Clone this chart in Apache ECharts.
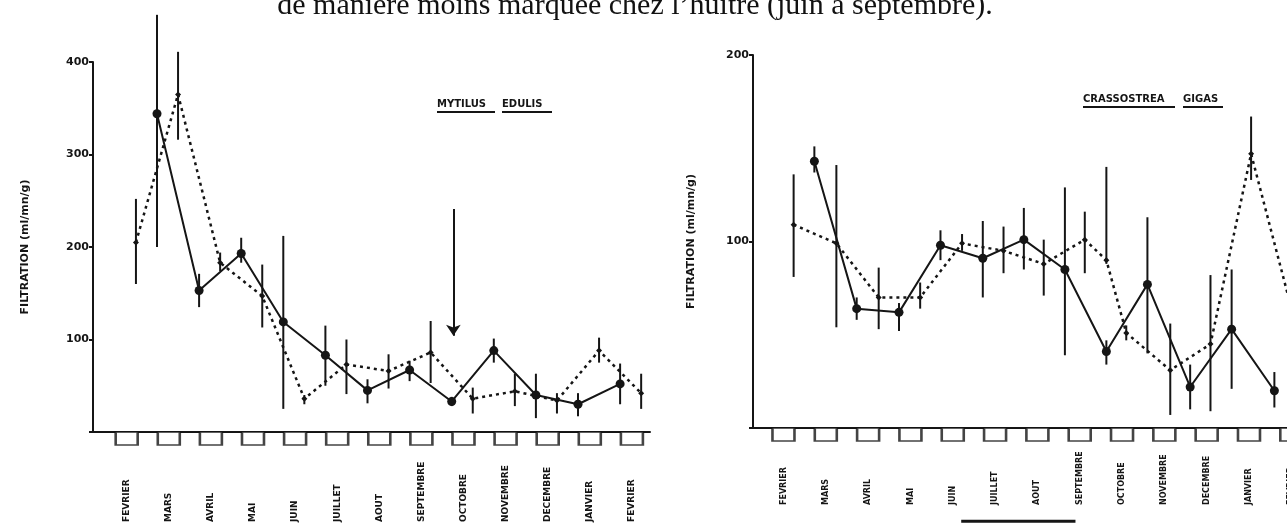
<!DOCTYPE html>
<html>
<head>
<meta charset="utf-8">
<script src="https://cdn.jsdelivr.net/npm/echarts@6/dist/echarts.min.js"></script>
<style>
  html, body { margin: 0; background: #fff; }
  #main { width: 1287px; height: 526px; }
</style>
</head>
<body>
<div id="main"></div>
<script>
// month labels (box under each month), Feb -> Feb
const months = ['FEVRIER', 'MARS', 'AVRIL', 'MAI', 'JUIN', 'JUILLET', 'AOUT', 'SEPTEMBRE',
  'OCTOBRE', 'NOVEMBRE', 'DECEMBRE', 'JANVIER', 'FEVRIER'];
const monthPos = [0, 1, 2, 3, 4, 5, 6, 7, 8, 9, 10, 11, 12];

// Mytilus edulis - solid line (filled dots)
const mytSolidX = [0.72, 1.72, 2.72, 3.72, 4.72, 5.72, 6.72, 7.72, 8.72, 9.72, 10.72, 11.72];
const mytSolidY = [344, 153, 193, 119, 83, 45, 67, 33, 88, 40, 30, 52];
const mytSolidLo = [200, 135, 183, 25, 50, 31, 55, 28, 75, 15, 17, 30];
const mytSolidHi = [451, 171, 210, 212, 115, 57, 77, 38, 101, 63, 42, 74];

// Mytilus edulis - dashed line
const mytDashX = [0.22, 1.22, 2.22, 3.22, 4.22, 5.22, 6.22, 7.22, 8.22, 9.22, 10.22, 11.22, 12.22];
const mytDashY = [205, 365, 183, 147, 36, 73, 66, 86, 36, 44, 34, 88, 42];
const mytDashLo = [160, 316, 174, 113, 30, 41, 47, 53, 20, 28, 20, 75, 25];
const mytDashHi = [252, 411, 194, 181, 40, 100, 84, 120, 48, 63, 42, 102, 63];

// arrow (x position, from / to value)
const arrowX = 7.76;
const arrowFrom = 241;
const arrowTo = 104;

// Crassostrea gigas - solid line
const crasSolidX = [0.73, 1.73, 2.73, 3.71, 4.71, 5.68, 6.65, 7.63, 8.6, 9.61, 10.59, 11.6];
const crasSolidY = [143, 64, 62, 98, 91, 101, 85, 41, 77, 22, 53, 20];
const crasSolidLo = [137, 58, 52, 90, 70, 85, 39, 34, 40, 10, 21, 11];
const crasSolidHi = [151, 70, 67, 106, 111, 118, 129, 47, 113, 34, 85, 30];

// Crassostrea gigas - dashed line
const crasDashX = [0.24, 1.25, 2.25, 3.23, 4.22, 5.2, 6.15, 7.12, 7.63, 8.1, 9.14, 10.09, 11.05, 12.05];
const crasDashY = [109, 99, 70, 70, 99, 95, 88, 101, 90, 51, 31, 45, 147, 60];
const crasDashLo = [81, 54, 53, 64, 95, 83, 71, 83, 88, 47, 7, 9, 133, 60];
const crasDashHi = [136, 141, 86, 78, 104, 108, 101, 116, 140, 55, 56, 82, 167, 60];

// june-september underline under the oyster months
const summerSpan = [4.2, 6.9];
const summerLevel = -50;

const ink = '#151515';
const labelFont = 'DejaVu Sans';

let myChart = echarts.init(document.getElementById('main'));

function pairs(xs, ys) {
  return xs.map((x, i) => [x, ys[i]]);
}

function errorBars(xs, lo, hi, idx) {
  return {
    type: 'custom',
    xAxisIndex: idx,
    yAxisIndex: idx,
    silent: true,
    clip: false,
    z: 1,
    data: xs.map((x, i) => [x, lo[i], hi[i]]),
    encode: { x: 0, y: [1, 2] },
    renderItem: function (params, api) {
      const a = api.coord([api.value(0), api.value(1)]);
      const b = api.coord([api.value(0), api.value(2)]);
      return {
        type: 'line',
        shape: { x1: a[0], y1: a[1], x2: b[0], y2: b[1] },
        style: { stroke: ink, lineWidth: 2 }
      };
    }
  };
}

function solidLine(xs, ys, idx) {
  return {
    type: 'line', xAxisIndex: idx, yAxisIndex: idx,
    data: pairs(xs, ys),
    symbol: 'circle', symbolSize: 9,
    clip: false, z: 3,
    lineStyle: { color: ink, width: 2 },
    itemStyle: { color: ink }
  };
}

function dashedLine(xs, ys, idx) {
  return {
    type: 'line', xAxisIndex: idx, yAxisIndex: idx,
    data: pairs(xs, ys),
    symbol: 'diamond', symbolSize: 6,
    clip: false, z: 2,
    lineStyle: { color: ink, width: 2.5, type: [3, 4] },
    itemStyle: { color: ink }
  };
}

function monthBoxes(idx) {
  return {
    type: 'scatter', xAxisIndex: idx, yAxisIndex: idx,
    data: monthPos.map(p => [p, 0]),
    symbol: 'rect', symbolSize: [22, 13], symbolOffset: [0, 6.5],
    clip: false, silent: true, z: 4,
    itemStyle: { color: '#fff', borderColor: ink, borderWidth: 2 }
  };
}

function xAxisFor(idx, min, max, margin, size) {
  return {
    type: 'value', gridIndex: idx, min: min, max: max,
    axisLine: { show: true, onZero: false, lineStyle: { color: ink, width: 2 } },
    axisTick: { show: false },
    splitLine: { show: false },
    axisLabel: {
      customValues: monthPos,
      formatter: v => months[Math.round(v)] || '',
      rotate: 90, align: 'left', verticalAlign: 'middle',
      margin: margin, color: ink,
      fontFamily: labelFont, fontWeight: 'bold', fontSize: size
    }
  };
}

function yAxisFor(idx, max, gap) {
  return {
    type: 'value', gridIndex: idx, min: 0, max: max, interval: 100,
    name: 'FILTRATION (ml/mn/g)', nameLocation: 'middle', nameGap: gap, nameRotate: 90,
    nameTextStyle: { color: ink, fontFamily: labelFont, fontWeight: 'bold', fontSize: 11 },
    axisLine: { show: true, onZero: false, lineStyle: { color: ink, width: 2 } },
    axisTick: { show: true, length: 4, lineStyle: { color: ink, width: 2 } },
    splitLine: { show: false },
    axisLabel: {
      formatter: v => (v === 0 ? '' : String(v)),
      color: ink, fontFamily: labelFont, fontWeight: 'bold', fontSize: 11, margin: 4
    }
  };
}

function underlinedTitle(words, x, y, gap) {
  const items = [];
  let cx = x;
  words.forEach(w => {
    items.push({
      type: 'text', x: cx, y: y,
      style: { text: w.text, fill: ink, fontFamily: labelFont, fontWeight: 'bold', fontSize: 10 }
    });
    items.push({
      type: 'line',
      shape: { x1: cx, y1: y + 13, x2: cx + w.width, y2: y + 13 },
      style: { stroke: ink, lineWidth: 2 }
    });
    cx += w.width + gap;
  });
  return items;
}

myChart.setOption({
  animation: false,
  backgroundColor: '#fff',
  grid: [
    { left: 93, top: 62, width: 557, height: 370, outerBoundsMode: 'none' },
    { left: 753, top: 55, width: 551, height: 373, outerBoundsMode: 'none' }
  ],
  xAxis: [
    xAxisFor(0, -0.8, 12.43, 90, 9),
    xAxisFor(1, -0.72, 12.3, 77, 8)
  ],
  yAxis: [
    yAxisFor(0, 400, 62),
    yAxisFor(1, 200, 56)
  ],
  graphic: [
    {
      type: 'text', x: 635, y: 21,
      style: {
        text: 'de manière moins marquée chez l\u2019huître (juin à septembre).',
        fill: '#111', fontFamily: 'Liberation Serif', fontSize: 30,
        textAlign: 'center', textVerticalAlign: 'bottom'
      }
    },
    ...underlinedTitle([{ text: 'MYTILUS', width: 58 }, { text: 'EDULIS', width: 50 }], 437, 99, 7),
    ...underlinedTitle([{ text: 'CRASSOSTREA', width: 92 }, { text: 'GIGAS', width: 40 }], 1083, 94, 8)
  ],
  series: [
    errorBars(mytSolidX, mytSolidLo, mytSolidHi, 0),
    errorBars(mytDashX, mytDashLo, mytDashHi, 0),
    solidLine(mytSolidX, mytSolidY, 0),
    Object.assign(dashedLine(mytDashX, mytDashY, 0), {
      markLine: {
        silent: true,
        symbol: ['none', 'arrow'],
        symbolSize: 11,
        label: { show: false },
        lineStyle: { type: 'solid', color: ink, width: 2 },
        data: [[{ coord: [arrowX, arrowFrom] }, { coord: [arrowX, arrowTo] }]]
      }
    }),
    monthBoxes(0),
    errorBars(crasSolidX, crasSolidLo, crasSolidHi, 1),
    errorBars(crasDashX, crasDashLo, crasDashHi, 1),
    solidLine(crasSolidX, crasSolidY, 1),
    dashedLine(crasDashX, crasDashY, 1),
    monthBoxes(1),
    {
      type: 'line', xAxisIndex: 1, yAxisIndex: 1,
      data: summerSpan.map(x => [x, summerLevel]),
      symbol: 'none', clip: false, silent: true,
      lineStyle: { color: ink, width: 3 }
    }
  ]
});
</script>
</body>
</html>
